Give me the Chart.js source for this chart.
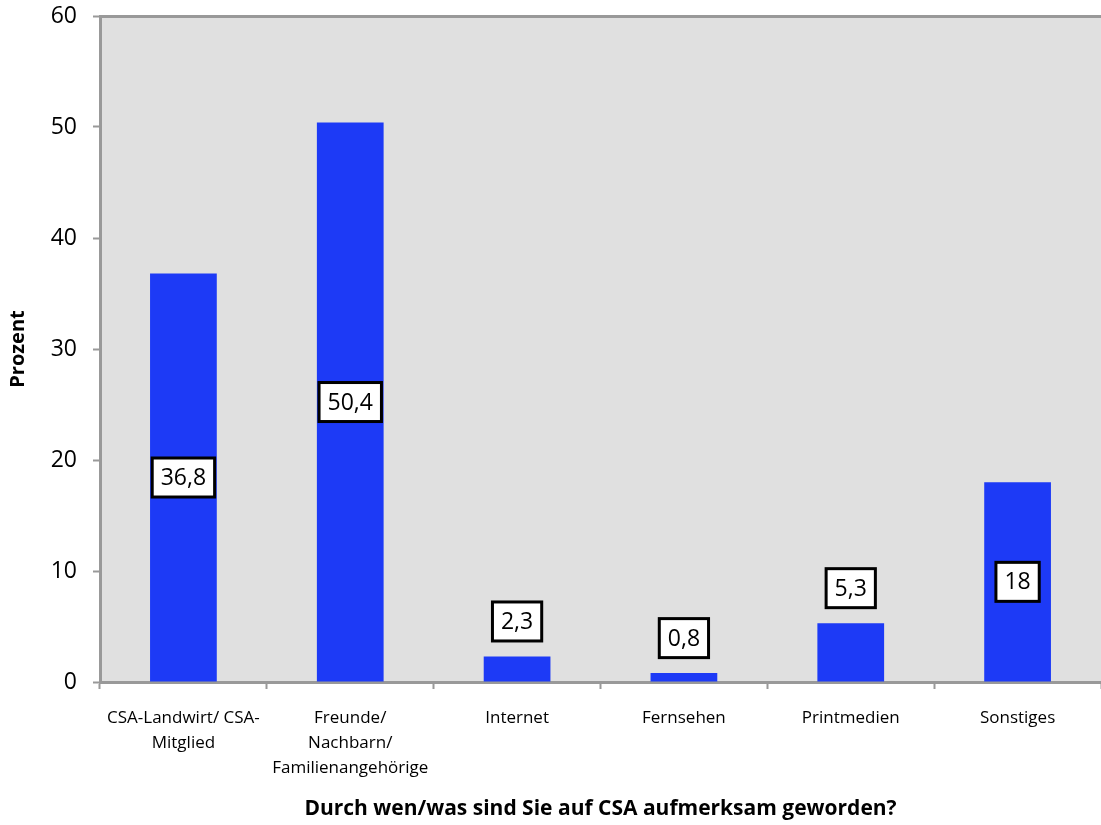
<!DOCTYPE html>
<html>
<head>
<meta charset="utf-8">
<script src="https://cdn.jsdelivr.net/npm/chart.js@4/dist/chart.umd.min.js"></script>
<style>
  body { margin: 0; background: #fff; }
  canvas { display: block; }
</style>
</head>
<body>
<canvas id="csaChart" width="1101" height="825"></canvas>
<script>
// Data
const categories = [
  ['CSA-Landwirt/ CSA-', 'Mitglied'],
  ['Freunde/', 'Nachbarn/', 'Familienangehörige'],
  'Internet',
  'Fernsehen',
  'Printmedien',
  'Sonstiges'
];
const percentValues = [36.8, 50.4, 2.3, 0.8, 5.3, 18];
const yTicks = [0, 10, 20, 30, 40, 50, 60];

const axisGray = '#999999';

// gray plot background
const plotBackground = {
  id: 'plotBackground',
  beforeDraw(chart) {
    const a = chart.chartArea;
    const ctx = chart.ctx;
    ctx.save();
    ctx.fillStyle = '#e0e0e0';
    ctx.fillRect(a.left, a.top, a.right - a.left, a.bottom - a.top);
    ctx.restore();
  }
};

// boxed value labels (inside tall bars, above short ones)
const boxLabels = {
  id: 'boxLabels',
  afterDatasetsDraw(chart) {
    const ctx = chart.ctx;
    const meta = chart.getDatasetMeta(0);
    ctx.save();
    ctx.font = '23px "Open Sans"';
    ctx.textAlign = 'center';
    ctx.textBaseline = 'middle';
    meta.data.forEach((bar, i) => {
      const txt = String(percentValues[i]).replace('.', ',');
      const h = bar.base - bar.y;
      const cy = h > 100 ? (bar.y + bar.base) / 2 : bar.y - 35;
      const w = ctx.measureText(txt).width + 17;
      const bh = 39;
      ctx.fillStyle = '#fff';
      ctx.fillRect(bar.x - w / 2, cy - bh / 2, w, bh);
      ctx.lineWidth = 3;
      ctx.strokeStyle = '#000';
      ctx.strokeRect(bar.x - w / 2, cy - bh / 2, w, bh);
      ctx.fillStyle = '#000';
      ctx.fillText(txt, bar.x, cy + 1);
    });
    ctx.restore();
  }
};

const ctx = document.getElementById('csaChart').getContext('2d');
const csaChart = new Chart(ctx, {
  type: 'bar',
  data: {
    labels: categories,
    datasets: [{
      data: percentValues,
      backgroundColor: '#1d3af6',
      borderWidth: 0,
      barPercentage: 0.4,
      categoryPercentage: 1.0
    }]
  },
  options: {
    responsive: false,
    animation: false,
    layout: { padding: { top: 16, right: 0, bottom: 0, left: 0 } },
    plugins: {
      legend: { display: false },
      tooltip: { enabled: false }
    },
    scales: {
      x: {
        afterFit(scale) { scale.height = 143; },
        border: { color: axisGray, width: 3 },
        grid: {
          drawOnChartArea: false,
          tickLength: 7,
          tickColor: axisGray,
          tickWidth: 2
        },
        ticks: {
          color: '#000',
          font: { family: '"Open Sans"', size: 17, lineHeight: 1.47 },
          maxRotation: 0,
          autoSkip: false,
          padding: 17
        },
        title: {
          display: true,
          text: 'Durch wen/was sind Sie auf CSA aufmerksam geworden?',
          color: '#000',
          font: { family: '"Open Sans"', size: 21, weight: 'bold' },
          padding: { top: 3, bottom: 3 }
        }
      },
      y: {
        min: 0,
        max: 60,
        afterFit(scale) {
          scale.width = 100;
          scale.paddingTop = 0;
          scale.paddingBottom = 0;
        },
        afterBuildTicks(scale) {
          scale.ticks = yTicks.map(v => ({ value: v }));
        },
        border: { color: axisGray, width: 3 },
        grid: {
          color: c => (c.tick && c.tick.value === 60) ? axisGray : 'rgba(0,0,0,0)',
          lineWidth: c => (c.tick && c.tick.value === 60) ? 3 : 1,
          tickLength: 7,
          tickColor: axisGray,
          tickWidth: 2
        },
        ticks: {
          color: '#000',
          font: { family: '"Open Sans"', size: 23 },
          padding: 16
        },
        title: {
          display: true,
          text: 'Prozent',
          color: '#000',
          font: { family: '"Open Sans"', size: 20, weight: 'bold' },
          padding: { top: 6, bottom: 0 }
        }
      }
    }
  },
  plugins: [plotBackground, boxLabels]
});
</script>
</body>
</html>
